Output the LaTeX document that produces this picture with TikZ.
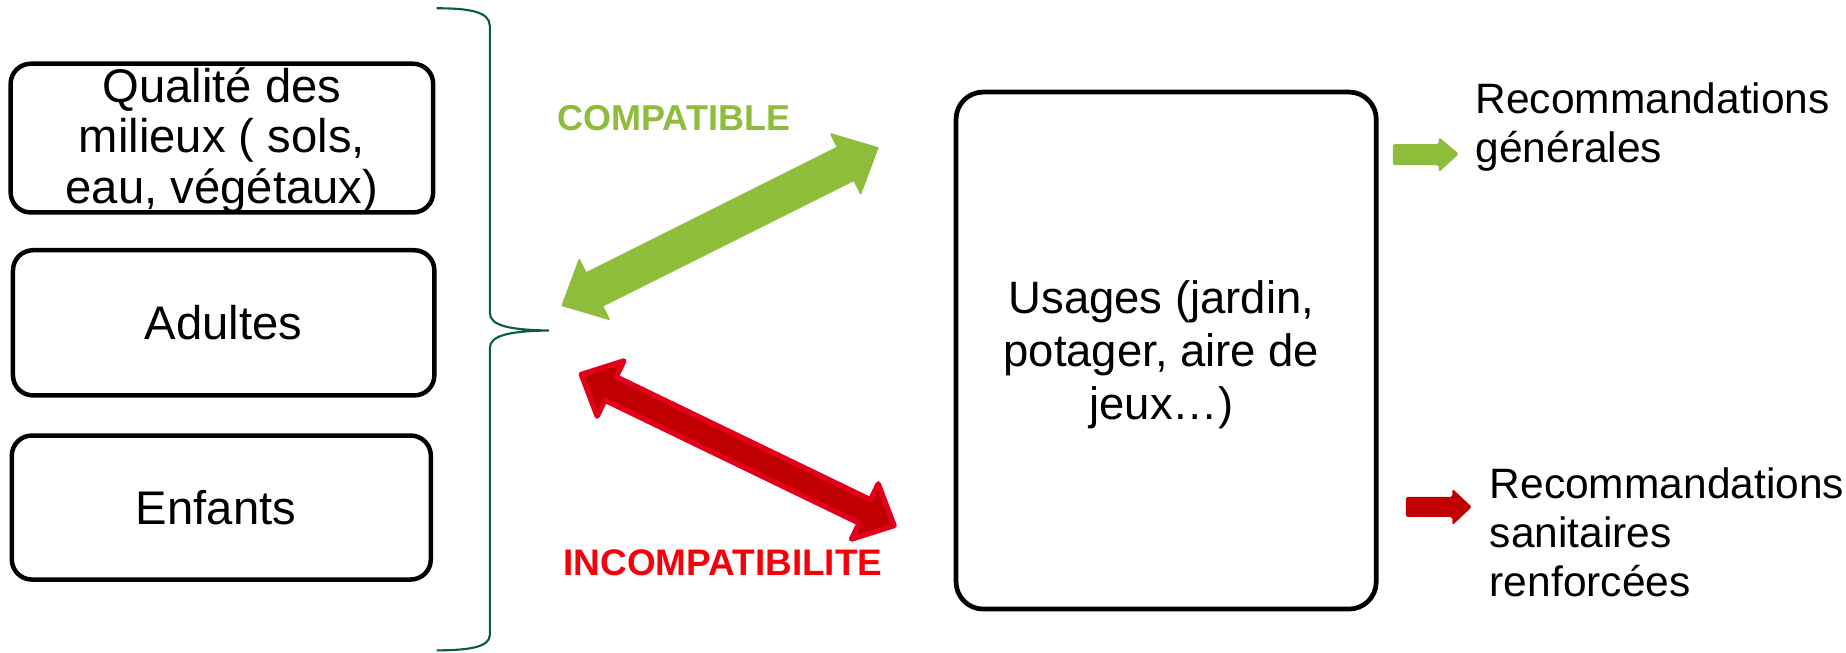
\documentclass[tikz,border=0pt]{standalone}
\usepackage{fontspec}
\setmainfont{Liberation Sans}
\usetikzlibrary{calc}
\definecolor{bracegreen}{HTML}{0E5C3F}
\definecolor{arrgreen}{HTML}{8DBD3A}
\definecolor{arrred}{HTML}{C00000}
\definecolor{arrredline}{HTML}{E3001B}
\definecolor{txtred}{HTML}{F5000A}
\newcommand\DblArr[6]{%
  \draw[#1] (#2)
   -- ($(#2)!#4!(#3)!#5!90:(#3)$)
   -- ($(#2)!#4!(#3)!#6!90:(#3)$)
   -- ($(#3)!#4!(#2)!#6!-90:(#2)$)
   -- ($(#3)!#4!(#2)!#5!-90:(#2)$)
   -- (#3)
   -- ($(#3)!#4!(#2)!#5!90:(#2)$)
   -- ($(#3)!#4!(#2)!#6!90:(#2)$)
   -- ($(#2)!#4!(#3)!#6!-90:(#3)$)
   -- ($(#2)!#4!(#3)!#5!-90:(#3)$)
   -- cycle;}
\begin{document}
\begin{tikzpicture}[x=1pt,y=-1pt,
  box/.style={draw=black,line width=3.8pt,rounded corners=17pt,inner sep=0pt},
  boxtext/.style={inner sep=0pt,align=center,font=\fontsize{40}{42.5}\selectfont},
  bigbox/.style={draw=black,line width=4pt,rounded corners=23pt,inner sep=0pt},
  bigtext/.style={inner sep=0pt,align=center,font=\fontsize{38.5}{45}\selectfont},
  side/.style={inner sep=0pt,align=left,anchor=west,font=\fontsize{36}{41.5}\selectfont},
  lab/.style={inner sep=0pt,font=\fontsize{30.5}{34}\selectfont\bfseries},
  bracepath/.style={draw=bracegreen,line width=1.8pt},
]
\useasboundingbox (0,0) rectangle (1564,552.4);

% left boxes
\node[box,minimum width=358pt,minimum height=126pt] (q) at (188,117) {};
\node[boxtext] (qt) at (188,119) {Qualité des\\milieux ( sols,\\eau, végétaux)};
\node[box,minimum width=357pt,minimum height=123pt] (ad) at (189.5,273.5) {};
\node[boxtext] (adt) at (189.5,273.5) {Adultes};
\node[box,minimum width=355pt,minimum height=122pt] (en) at (187.5,430) {};
\node[boxtext] (ent) at (183,430) {Enfants};

% big box
\node[bigbox,minimum width=356pt,minimum height=438pt] (us) at (988,297) {};
\node[bigtext] (ust) at (984,300.5) {Usages (jardin,\\potager, aire de\\jeux…)};

% brace
\coordinate (bt) at (370,7);
\coordinate (btip) at (465,280);
\coordinate (bb) at (370,551);
\draw[bracepath] (bt) .. controls (398,7) and (415,10) .. (415,22)
  -- (415,265) .. controls (415,276) and (432,279.5) .. (btip)
  .. controls (432,280.5) and (415,284) .. (415,295)
  -- (415,538) .. controls (415,548) and (398,551) .. (bb);

% labels
\node[lab,text=arrgreen] (comp) at (571,100) {COMPATIBLE};
\node[lab,text=txtred,font=\fontsize{31.3}{34}\selectfont\bfseries] (incomp) at (612.5,477) {INCOMPATIBILITE};

% big double arrows
\coordinate (gA) at (476.5,258.7);
\coordinate (gB) at (743.5,125.3);
\coordinate (rA) at (492.5,317.2);
\coordinate (rB) at (757.5,445.3);
\DblArr{fill=arrgreen,draw=arrgreen,line width=1.5pt,line join=round}{gA}{gB}{30pt}{28pt}{15.5pt}
\DblArr{fill=arrred,draw=arrredline,line width=4.5pt,line join=round}{rA}{rB}{27.5pt}{26pt}{11pt}

% right texts
\node[side] (rg) at (1250,108) {Recommandations\\générales};
\node[side] (rs) at (1262,451) {Recommandations\\sanitaires\\renforcées};

% small arrows
\coordinate (ga0) at (1180,130.5);
\coordinate (ga1) at (1236,130.5);
\fill[arrgreen,rounded corners=1.5pt] (ga0) ++(0,-8.5) -- ++(39,0) -- ++(0,-6) -- (ga1) -- ++(-17,15.5) -- ++(0,-6) -- ++(-39,0) -- cycle;
\coordinate (ra0) at (1191,429.5);
\coordinate (ra1) at (1247,429.5);
\fill[arrred,rounded corners=1.5pt] (ra0) ++(0,-8.5) -- ++(39.5,0) -- ++(0,-7) -- (ra1) -- ++(-16.5,15.5) -- ++(0,-7) -- ++(-39.5,0) -- cycle;
\end{tikzpicture}
\end{document}
